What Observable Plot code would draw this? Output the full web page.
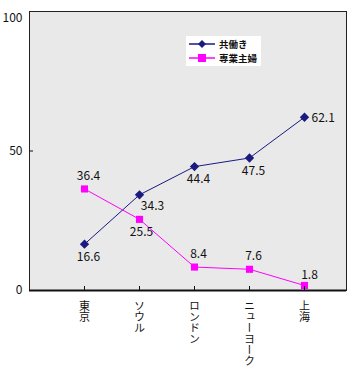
<!DOCTYPE html>
<html><head><meta charset="utf-8">
<script src="https://cdn.jsdelivr.net/npm/d3@7"></script>
<script src="https://cdn.jsdelivr.net/npm/@observablehq/plot@0.6"></script>
<style>
body{margin:0;background:#fff;font-family:"Noto Sans CJK JP",sans-serif;}
#wrap{position:relative;width:351px;height:367px;}
#legend{position:absolute;left:186px;top:36px;width:75px;height:30px;background:#fff;font-size:9.5px;font-weight:bold;color:#111;white-space:nowrap;}
#legend .row{display:flex;align-items:center;height:14px;padding-left:3px;}
#legend .row:first-child{margin-top:1px;}
#legend .row span{margin-left:4px;line-height:14px;}
</style></head>
<body><div id="wrap"></div>
<script>
const cities = ["東京","ソウル","ロンドン","ニューヨーク","上海"];
const tomobataraki = [16.6,34.3,44.4,47.5,62.1];
const sengyoShufu = [36.4,25.5,8.4,7.6,1.8];
const seriesNames = ["共働き","専業主婦"];
const yTicks = [0,50,100];
const colors = ["#1a1a80","#ff00ff"];

const rows = [];
[tomobataraki, sengyoShufu].forEach((vals, s) => vals.forEach((v, i) => rows.push({series: seriesNames[s], city: cities[i], i, value: v})));
const A = rows.filter(d => d.series === seriesNames[0]);
const B = rows.filter(d => d.series === seriesNames[1]);
const last = cities.length - 1;
const fmt = d => d.value.toFixed(1);
const font = {fontSize: 12, fontFamily: "Noto Sans CJK JP", fill: "#111"};

const chart = Plot.plot({
  width: 351, height: 367,
  marginLeft: 29, marginRight: 5, marginTop: 11, marginBottom: 77,
  x: {type: "point", domain: cities, padding: 0.866, align: 0.564},
  y: {domain: [0, 100]},
  style: {fontFamily: "Noto Sans CJK JP", fontSize: "12px", color: "#111", background: "#fff"},
  marks: [
    Plot.frame({fill: "#e9e9e9", stroke: "#222", strokeWidth: 1}),
    Plot.ruleY([0], {stroke: "#111", strokeWidth: 2}),
    Plot.line(A, {x: "city", y: "value", stroke: colors[0], strokeWidth: 1}),
    Plot.line(B, {x: "city", y: "value", stroke: colors[1], strokeWidth: 1}),
    Plot.dot(A, {x: "city", y: "value", symbol: "diamond2", r: 4.2, fill: colors[0], stroke: null}),
    Plot.dot(B, {x: "city", y: "value", symbol: "square", r: 4, fill: colors[1]}),
    // 共働き labels: below, last one to the right
    Plot.text(A.filter(d => d.i === 0 || d.i === 2 || d.i === 3), {x: "city", y: "value", text: fmt, dx: 4, dy: 13, ...font}),
    Plot.text(A.filter(d => d.i === 1), {x: "city", y: "value", text: fmt, dx: 13, dy: 11, ...font}),
    Plot.text(A.filter(d => d.i === last), {x: "city", y: "value", text: fmt, dx: 7, dy: 1, textAnchor: "start", ...font}),
    // 専業主婦 labels: above, ソウル below
    Plot.text(B.filter(d => d.i !== 1 && d.i !== last), {x: "city", y: "value", text: fmt, dx: 4, dy: -13, ...font}),
    Plot.text(B.filter(d => d.i === last), {x: "city", y: "value", text: fmt, dx: 5, dy: -10, ...font}),
    Plot.text(B.filter(d => d.i === 1), {x: "city", y: "value", text: fmt, dx: 2, dy: 13, ...font}),
    Plot.axisY(yTicks.filter(v => v < 100), {tickSize: -4, tickPadding: 11, label: null, fontSize: 12}),
    Plot.axisY(yTicks.filter(v => v === 100), {tickSize: 0, tickPadding: 7, dy: 7, label: null, fontSize: 12}),
    Plot.axisX({tickSize: -4, tickPadding: 6, label: null, fontSize: 11})
  ]
});

const wrap = document.getElementById("wrap");
wrap.appendChild(chart);
d3.select(chart).selectAll('g[aria-label="x-axis tick label"] text')
  .attr("dy", null)
  .style("writing-mode", "vertical-rl")
  .attr("text-anchor", "start");

const legend = document.createElement("div");
legend.id = "legend";
seriesNames.forEach((name, s) => {
  const row = document.createElement("div");
  row.className = "row";
  const marker = s === 0
    ? `<path d="M13,3 L17,7 L13,11 L9,7Z" fill="${colors[0]}"/>`
    : `<rect x="9" y="3" width="8" height="8" fill="${colors[1]}"/>`;
  row.innerHTML = `<svg width="26" height="14"><line x1="0" x2="26" y1="7" y2="7" stroke="${colors[s]}" stroke-width="1.5"/>${marker}</svg><span>${name}</span>`;
  legend.appendChild(row);
});
wrap.appendChild(legend);
</script></body></html>
